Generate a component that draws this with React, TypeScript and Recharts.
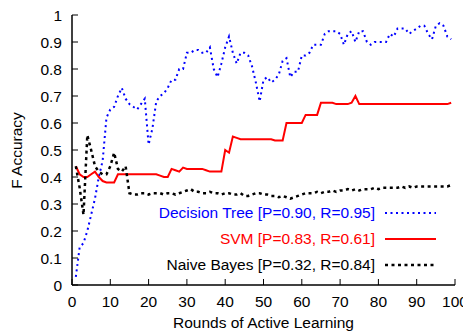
import React from 'react';
import { LineChart, Line, XAxis, YAxis, Legend } from 'recharts';

const rounds = Array.from({ length: 99 }, (_, i) => i + 1);

const decisionTree = [
  0.03, 0.14, 0.155, 0.2, 0.26, 0.32, 0.4, 0.46, 0.62, 0.65,
  0.66, 0.7, 0.73, 0.69, 0.67, 0.66, 0.65, 0.67, 0.69, 0.52,
  0.58, 0.68, 0.7, 0.71, 0.73, 0.76, 0.76, 0.8, 0.8, 0.86,
  0.86, 0.87, 0.87, 0.86, 0.86, 0.88, 0.8, 0.77, 0.82, 0.88,
  0.92, 0.86, 0.82, 0.86, 0.86, 0.85, 0.81, 0.75, 0.68, 0.76,
  0.77, 0.75, 0.76, 0.78, 0.83, 0.84, 0.77, 0.79, 0.79, 0.85,
  0.85, 0.86, 0.89, 0.89, 0.89, 0.93, 0.94, 0.94, 0.94, 0.93,
  0.89, 0.93, 0.94, 0.9, 0.94, 0.94, 0.9, 0.89, 0.9, 0.9,
  0.9, 0.9, 0.93, 0.92, 0.95, 0.95, 0.95, 0.93, 0.94, 0.95,
  0.96, 0.96, 0.93, 0.91, 0.96, 0.97, 0.96, 0.92, 0.91,
];

const svm = [
  0.44, 0.41, 0.4, 0.4, 0.41, 0.42, 0.4, 0.385, 0.38, 0.38,
  0.38, 0.41, 0.41, 0.41, 0.41, 0.41, 0.41, 0.41, 0.41, 0.41,
  0.41, 0.41, 0.405, 0.4, 0.4, 0.43, 0.425, 0.42, 0.435, 0.43,
  0.43, 0.43, 0.43, 0.43, 0.425, 0.42, 0.42, 0.42, 0.42, 0.5,
  0.49, 0.55, 0.545, 0.54, 0.54, 0.54, 0.54, 0.54, 0.54, 0.54,
  0.54, 0.54, 0.535, 0.535, 0.535, 0.6, 0.6, 0.6, 0.6, 0.6,
  0.63, 0.63, 0.63, 0.63, 0.675, 0.675, 0.675, 0.675, 0.67, 0.67,
  0.67, 0.67, 0.675, 0.7, 0.67, 0.67, 0.67, 0.67, 0.67, 0.67,
  0.67, 0.67, 0.67, 0.67, 0.67, 0.67, 0.67, 0.67, 0.67, 0.67,
  0.67, 0.67, 0.67, 0.67, 0.67, 0.67, 0.67, 0.67, 0.675,
];

const naiveBayes = [
  0.44, 0.36, 0.26, 0.555, 0.5, 0.44, 0.42, 0.41, 0.41, 0.44,
  0.49, 0.43, 0.42, 0.44, 0.34, 0.335, 0.335, 0.34, 0.34, 0.335,
  0.34, 0.34, 0.34, 0.335, 0.34, 0.34, 0.335, 0.34, 0.345, 0.35,
  0.355, 0.345, 0.345, 0.34, 0.34, 0.345, 0.34, 0.34, 0.335, 0.34,
  0.34, 0.335, 0.335, 0.34, 0.33, 0.33, 0.335, 0.34, 0.34, 0.335,
  0.335, 0.33, 0.33, 0.325, 0.33, 0.325, 0.32, 0.325, 0.33, 0.335,
  0.34, 0.34, 0.34, 0.345, 0.34, 0.345, 0.345, 0.35, 0.345, 0.35,
  0.35, 0.355, 0.35, 0.355, 0.35, 0.355, 0.355, 0.355, 0.36, 0.355,
  0.36, 0.36, 0.36, 0.36, 0.36, 0.365, 0.36, 0.365, 0.36, 0.365,
  0.365, 0.365, 0.365, 0.365, 0.365, 0.365, 0.365, 0.365, 0.37,
];

const seriesKeys = ['dt', 'svm', 'nb'];
const seriesNames = [
  'Decision Tree [P=0.90, R=0.95]',
  'SVM [P=0.83, R=0.61]',
  'Naive Bayes [P=0.32, R=0.84]',
];

const xTicks = [0, 10, 20, 30, 40, 50, 60, 70, 80, 90, 100];
const yTicks = [0, 0.1, 0.2, 0.3, 0.4, 0.5, 0.6, 0.7, 0.8, 0.9, 1];

const data = rounds.map((x, i) => ({
  x,
  dt: decisionTree[i],
  svm: svm[i],
  nb: naiveBayes[i],
}));

const FONT = '"Liberation Sans", Arial, Helvetica, sans-serif';
const FS = 15.5;
const TICK_LEN = 6;

const fmtY = (v: number) => (v === 0 ? '0' : v === 1 ? '1' : v.toFixed(1));

const BottomTick = (props: any) => {
  const { x, y, payload } = props;
  return (
    <g>
      <line x1={x} y1={y} x2={x} y2={y - TICK_LEN} stroke="#000" strokeWidth={1} />
      <text x={x} y={y + 22} textAnchor="middle" fontSize={FS} fontFamily={FONT} fill="#000">
        {payload.value}
      </text>
    </g>
  );
};

const TopTick = (props: any) => {
  const { x, y } = props;
  return <line x1={x} y1={y} x2={x} y2={y + TICK_LEN} stroke="#000" strokeWidth={1} />;
};

const LeftTick = (props: any) => {
  const { x, y, payload } = props;
  return (
    <g>
      <line x1={x} y1={y} x2={x + TICK_LEN} y2={y} stroke="#000" strokeWidth={1} />
      <text x={x - 10} y={y} dy="0.355em" textAnchor="end" fontSize={FS} fontFamily={FONT} fill="#000">
        {fmtY(payload.value)}
      </text>
    </g>
  );
};

const RightTick = (props: any) => {
  const { x, y } = props;
  return <line x1={x} y1={y} x2={x - TICK_LEN} y2={y} stroke="#000" strokeWidth={1} />;
};

const dashFor: Record<string, string | undefined> = {
  dt: '2 3.5',
  svm: undefined,
  nb: '3 3.5',
};
const widthFor: Record<string, number> = { dt: 2, svm: 2, nb: 2.5 };

const LegendContent = (props: any) => {
  const items = [...(props.payload || [])].sort(
    (a: any, b: any) => seriesKeys.indexOf(a.dataKey) - seriesKeys.indexOf(b.dataKey)
  );
  return (
    <div style={{ width: 300, fontFamily: FONT, fontSize: FS }}>
      {items.map((p: any) => (
        <div
          key={p.dataKey}
          style={{
            display: 'flex',
            justifyContent: 'flex-end',
            alignItems: 'center',
            height: 26,
            color: p.color,
          }}
        >
          <span style={{ whiteSpace: 'nowrap' }}>{p.value}</span>
          <svg width={51} height={10} style={{ marginLeft: 10 }}>
            <line
              x1={0}
              y1={5}
              x2={51}
              y2={5}
              stroke={p.color}
              strokeWidth={widthFor[p.dataKey]}
              strokeDasharray={dashFor[p.dataKey]}
            />
          </svg>
        </div>
      ))}
    </div>
  );
};

export default function App() {
  return (
    <div style={{ position: 'relative', width: 463, height: 324, fontFamily: FONT }}>
      <LineChart
        width={463}
        height={324}
        data={data}
        margin={{ top: 7, right: 16, left: 0, bottom: 0 }}
      >
        <XAxis
          xAxisId="b"
          dataKey="x"
          type="number"
          domain={[0, 100]}
          ticks={xTicks}
          interval={0}
          height={47}
          tickSize={0}
          tickMargin={0}
          tickLine={false}
          axisLine={{ stroke: '#000', strokeWidth: 1.5 }}
          tick={BottomTick}
        />
        <XAxis
          xAxisId="t"
          orientation="top"
          dataKey="x"
          type="number"
          domain={[0, 100]}
          ticks={xTicks}
          interval={0}
          height={0}
          tickSize={0}
          tickMargin={0}
          tickLine={false}
          axisLine={{ stroke: '#000', strokeWidth: 1.5 }}
          tick={TopTick}
        />
        <YAxis
          yAxisId="l"
          type="number"
          domain={[0, 1]}
          ticks={yTicks}
          interval={0}
          width={64}
          tickSize={0}
          tickMargin={0}
          tickLine={false}
          axisLine={{ stroke: '#000', strokeWidth: 1.5 }}
          tick={LeftTick}
        />
        <YAxis
          yAxisId="r"
          orientation="right"
          type="number"
          domain={[0, 1]}
          ticks={yTicks}
          interval={0}
          width={0}
          tickSize={0}
          tickMargin={0}
          tickLine={false}
          axisLine={{ stroke: '#000', strokeWidth: 1.5 }}
          tick={RightTick}
        />
        <Legend
          layout="vertical"
          align="center"
          verticalAlign="middle"
          itemSorter={null as any}
          content={LegendContent}
          wrapperStyle={{ position: 'absolute', left: 128, top: 192, width: 300, height: 78 }}
        />
        <Line
          xAxisId="b"
          yAxisId="l"
          dataKey="dt"
          name={seriesNames[0]}
          stroke="#0000ff"
          strokeWidth={2}
          strokeDasharray="2 3.5"
          dot={false}
          activeDot={false}
          isAnimationActive={false}
          type="linear"
        />
        <Line
          xAxisId="b"
          yAxisId="l"
          dataKey="svm"
          name={seriesNames[1]}
          stroke="#ff0000"
          strokeWidth={2}
          dot={false}
          activeDot={false}
          isAnimationActive={false}
          type="linear"
        />
        <Line
          xAxisId="b"
          yAxisId="l"
          dataKey="nb"
          name={seriesNames[2]}
          stroke="#000000"
          strokeWidth={2.5}
          strokeDasharray="3 3.5"
          dot={false}
          activeDot={false}
          isAnimationActive={false}
          type="linear"
        />
      </LineChart>
      <div
        style={{
          position: 'absolute',
          left: 64,
          width: 383,
          top: 306,
          textAlign: 'center',
          fontSize: FS,
          lineHeight: '17px',
          color: '#000',
          whiteSpace: 'nowrap',
        }}
      >
        Rounds of Active Learning
      </div>
      <div
        style={{
          position: 'absolute',
          left: 8 - 60,
          top: 142 - 8.5,
          width: 120,
          height: 17,
          lineHeight: '17px',
          textAlign: 'center',
          fontSize: FS,
          color: '#000',
          transform: 'rotate(-90deg)',
          whiteSpace: 'nowrap',
        }}
      >
        F Accuracy
      </div>
    </div>
  );
}
